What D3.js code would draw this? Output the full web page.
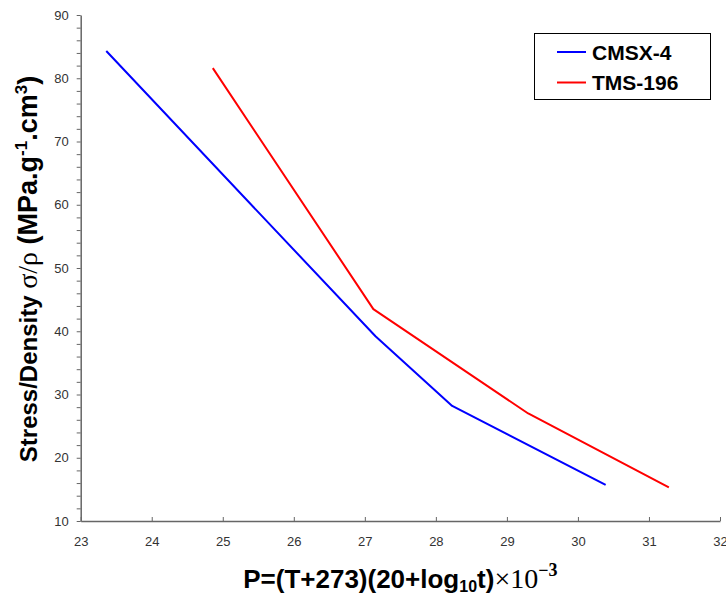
<!DOCTYPE html>
<html>
<head>
<meta charset="utf-8">
<script src="https://cdn.jsdelivr.net/npm/d3@7"></script>
<style>
  html, body { margin: 0; padding: 0; background: #fff; }
  svg { display: block; }
</style>
</head>
<body>
<svg id="chart" width="726" height="595"></svg>
<script>
// ---- data ----
const seriesNames = ["CMSX-4", "TMS-196"];
const seriesColors = ["#0000ff", "#ff0000"];
const cmsx4P = [23.36, 27.15, 28.23, 30.39];
const cmsx4Stress = [84.3, 39.2, 28.2, 15.7];
const tms196P = [24.86, 27.12, 29.30, 31.28];
const tms196Stress = [81.6, 43.5, 27.0, 15.3];
const xTicks = [23, 24, 25, 26, 27, 28, 29, 30, 31, 32];
const yTicks = d3.range(10, 91, 2);

const series = [
  { name: seriesNames[0], color: seriesColors[0], xs: cmsx4P, ys: cmsx4Stress },
  { name: seriesNames[1], color: seriesColors[1], xs: tms196P, ys: tms196Stress }
];

const svg = d3.select("#chart");
const mLeft = 80.7, mRight = 720, mTop = 15, mBottom = 521;

const x = d3.scaleLinear().domain([23, 32]).range([mLeft, mRight]);
const y = d3.scaleLinear().domain([10, 90]).range([mBottom, mTop]);

const axisColor = "#666";
const labelColor = "#333";

// y axis
const gy = svg.append("g")
  .attr("transform", `translate(${mLeft},0)`)
  .call(d3.axisLeft(y).tickValues(yTicks).tickSizeInner(4).tickSizeOuter(0).tickPadding(8)
    .tickFormat(d => d % 10 === 0 ? d : ""));
gy.select(".domain").attr("stroke", axisColor).attr("stroke-width", 1.5);
gy.selectAll(".tick line").attr("stroke", axisColor);
gy.selectAll(".tick text").attr("fill", labelColor)
  .style("font-family", "Arial, 'Liberation Sans', sans-serif").style("font-size", "13px");

// x axis
const gx = svg.append("g")
  .attr("transform", `translate(0,${mBottom})`)
  .call(d3.axisBottom(x).tickValues(xTicks).tickSizeInner(-4).tickSizeOuter(0).tickPadding(16)
    .tickFormat(d3.format("d")));
gx.select(".domain").attr("stroke", axisColor).attr("stroke-width", 1.5);
gx.selectAll(".tick line").attr("stroke", axisColor);
gx.selectAll(".tick text").attr("fill", labelColor)
  .style("font-family", "Arial, 'Liberation Sans', sans-serif").style("font-size", "13px");

// lines
const line = d3.line().x(d => x(d[0])).y(d => y(d[1]));
series.forEach(s => {
  const pts = s.xs.map((v, i) => [v, s.ys[i]]);
  svg.append("path")
    .datum(pts)
    .attr("d", line)
    .attr("fill", "none")
    .attr("stroke", s.color)
    .attr("stroke-width", 2)
    .attr("stroke-linejoin", "round");
});

// legend
const lg = svg.append("g");
lg.append("rect")
  .attr("x", 534.5).attr("y", 33.5).attr("width", 176).attr("height", 66)
  .attr("fill", "#fff").attr("stroke", "#000").attr("stroke-width", 1);
series.forEach((s, i) => {
  const cy = 52 + i * 30.5;
  lg.append("line")
    .attr("x1", 557).attr("x2", 586).attr("y1", cy).attr("y2", cy)
    .attr("stroke", s.color).attr("stroke-width", 2);
  lg.append("text")
    .attr("x", 592).attr("y", cy + 7.5)
    .style("font-family", "Arial, 'Liberation Sans', sans-serif")
    .style("font-weight", "bold").style("font-size", "21px")
    .attr("fill", "#000")
    .text(s.name);
});

// y axis title
const yt = svg.append("text")
  .attr("transform", "translate(37,269) rotate(-90)")
  .attr("text-anchor", "middle")
  .style("font-family", "Arial, 'Liberation Sans', sans-serif")
  .style("font-weight", "bold").style("font-size", "24px")
  .attr("fill", "#000");
yt.append("tspan").text("Stress/Density ");
yt.append("tspan").style("font-family", "'Liberation Serif', 'DejaVu Serif', serif")
  .style("font-weight", "normal").style("font-size", "28px").text("σ/ρ");
yt.append("tspan").style("font-size", "27px").text(" (MPa.g");
yt.append("tspan").attr("dy", -10).style("font-size", "17px").text("-1");
yt.append("tspan").attr("dy", 10).style("font-size", "27px").text(".cm");
yt.append("tspan").attr("dy", -10).style("font-size", "17px").text("3");
yt.append("tspan").attr("dy", 10).style("font-size", "27px").text(")");

// x axis title
const xt = svg.append("text")
  .attr("x", (mLeft + mRight) / 2).attr("y", 588)
  .attr("text-anchor", "middle")
  .style("font-family", "Arial, 'Liberation Sans', sans-serif")
  .style("font-weight", "bold").style("font-size", "26px")
  .attr("fill", "#000");
xt.append("tspan").text("P=(T+273)(20+log");
xt.append("tspan").attr("dy", 4).style("font-size", "16px").text("10");
xt.append("tspan").attr("dy", -4).text("t)");
xt.append("tspan").style("font-family", "'Liberation Serif', 'DejaVu Serif', serif")
  .style("font-weight", "normal").style("font-size", "28px").text("×10");
xt.append("tspan").attr("dy", -12).style("font-family", "'Liberation Serif', 'DejaVu Serif', serif")
  .style("font-size", "18px").text("−3");
</script>
</body>
</html>
